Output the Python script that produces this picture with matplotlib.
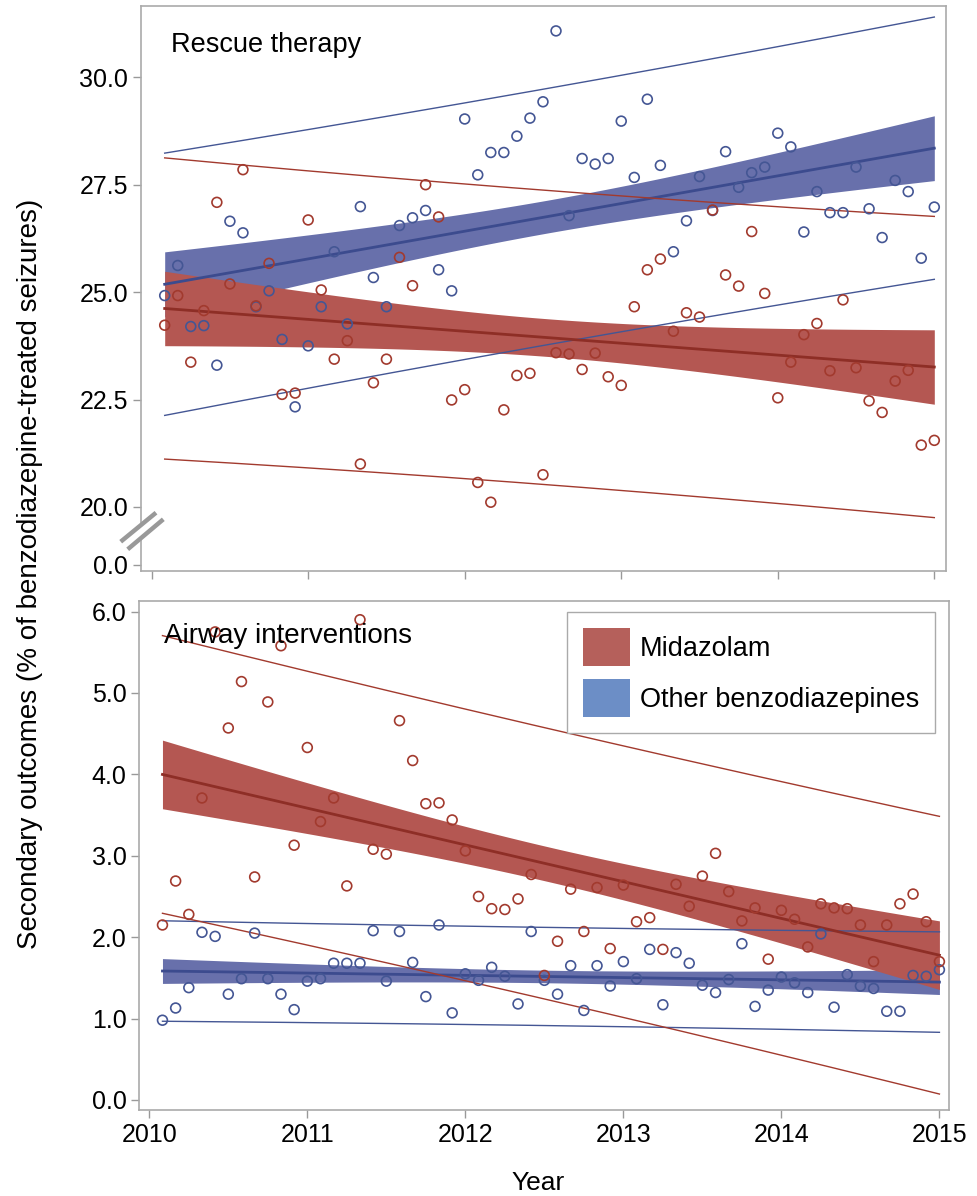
import numpy as np
import matplotlib
matplotlib.use('Agg')
import matplotlib.pyplot as plt
from matplotlib.lines import Line2D
from matplotlib.patches import Patch

plt.rcParams['font.family'] = ['Liberation Sans', 'DejaVu Sans']

# --- data (monthly points, Feb 2010 .. Jan 2015) ---
months = np.arange(1, 61)
year = 2010 + months / 12.0

rescue_midazolam = [24.23, 24.92, 23.37, 24.57, 27.09, 25.19, 27.85, 24.68, 25.67, 22.62,
                    22.65, 26.68, 25.05, 23.44, 23.87, 21.00, 22.89, 23.44, 25.81, 25.15,
                    27.50, 26.75, 22.49, 22.73, 20.57, 20.11, 22.26, 23.06, 23.11, 20.75,
                    23.59, 23.56, 23.20, 23.58, 23.03, 22.83, 24.66, 25.52, 25.77, 24.09,
                    24.52, 24.42, 26.91, 25.40, 25.14, 26.41, 24.97, 22.54, 23.37, 24.01,
                    24.27, 23.17, 24.82, 23.24, 22.47, 22.20, 22.93, 23.18, 21.44, 21.55]
rescue_other = [24.92, 25.62, 24.20, 24.22, 23.30, 26.65, 26.38, 24.66, 25.03, 23.90,
                22.33, 23.75, 24.66, 25.94, 24.26, 26.99, 25.34, 24.66, 26.55, 26.73,
                26.90, 25.52, 25.03, 29.03, 27.73, 28.25, 28.25, 28.63, 29.05, 29.43,
                31.08, 26.78, 28.11, 27.98, 28.11, 28.98, 27.67, 29.49, 27.95, 25.94,
                26.66, 27.69, 26.90, 28.27, 27.44, 27.78, 27.91, 28.70, 28.38, 26.40,
                27.34, 26.85, 26.85, 27.91, 26.94, 26.27, 27.60, 27.34, 25.79, 26.98]
airway_midazolam = [2.15, 2.69, 2.28, 3.71, 5.75, 4.57, 5.14, 2.74, 4.89, 5.58,
                    3.13, 4.33, 3.42, 3.71, 2.63, 5.90, 3.08, 3.02, 4.66, 4.17,
                    3.64, 3.65, 3.44, 3.06, 2.50, 2.35, 2.34, 2.47, 2.77, 1.53,
                    1.95, 2.59, 2.07, 2.61, 1.86, 2.64, 2.19, 2.24, 1.85, 2.65,
                    2.38, 2.75, 3.03, 2.56, 2.20, 2.36, 1.73, 2.33, 2.22, 1.88,
                    2.41, 2.36, 2.35, 2.15, 1.70, 2.15, 2.41, 2.53, 2.19, 1.70]
airway_other = [0.98, 1.13, 1.38, 2.06, 2.01, 1.30, 1.49, 2.05, 1.49, 1.30,
                1.11, 1.46, 1.49, 1.68, 1.68, 1.68, 2.08, 1.46, 2.07, 1.69,
                1.27, 2.15, 1.07, 1.55, 1.47, 1.63, 1.52, 1.18, 2.07, 1.47,
                1.30, 1.65, 1.10, 1.65, 1.40, 1.70, 1.49, 1.85, 1.17, 1.81,
                1.68, 1.41, 1.32, 1.48, 1.92, 1.15, 1.35, 1.51, 1.44, 1.32,
                2.04, 1.14, 1.54, 1.40, 1.37, 1.09, 1.09, 1.53, 1.52, 1.60]

years = [2010, 2011, 2012, 2013, 2014, 2015]
labels = ['Midazolam', 'Other benzodiazepines']

# colours
red = dict(fill='#b45752', line='#8e2e26', mark='#a23a2e', legend='#b5605b')
blue = dict(fill='#6870ab', line='#3c4b8e', mark='#445694', legend='#6c8ec6')
T_CRIT = 2.0017  # t(0.975, df=58)


def fit_bands(x, y):
    x = np.asarray(x)
    y = np.asarray(y, dtype=float)
    b, a = np.polyfit(x, y, 1)
    resid = y - (a + b * x)
    n = len(x)
    s = np.sqrt(np.sum(resid ** 2) / (n - 2))
    xbar = x.mean()
    sxx = np.sum((x - xbar) ** 2)
    xs = np.linspace(x.min(), x.max(), 200)
    fit = a + b * xs
    ci = T_CRIT * s * np.sqrt(1.0 / n + (xs - xbar) ** 2 / sxx)
    pi = T_CRIT * s * np.sqrt(1 + 1.0 / n + (xs - xbar) ** 2 / sxx)
    return xs, fit, ci, pi


def draw_panel(ax, y_mid, y_oth):
    groups = [(y_oth, blue), (y_mid, red)]
    res = [fit_bands(year, g[0]) for g in groups]
    for (yy, c), (xs, fit, ci, pi) in zip(groups, res):
        ax.fill_between(xs, fit - ci, fit + ci, color=c['fill'], lw=0, zorder=1)
    for (yy, c), (xs, fit, ci, pi) in zip(groups, res):
        ax.plot(xs, fit, color=c['line'], lw=2.0, zorder=2)
        ax.plot(xs, fit + pi, color=c['mark'], lw=1.0, zorder=2)
        ax.plot(xs, fit - pi, color=c['mark'], lw=1.0, zorder=2)
    for yy, c in groups:
        ax.scatter(year, yy, s=50, facecolors='none', edgecolors=c['mark'],
                   linewidths=1.2, zorder=3)


def style_axes(ax):
    for sp in ax.spines.values():
        sp.set_color('#aaaaaa')
        sp.set_linewidth(1.2)
    ax.tick_params(direction='out', length=6, width=1, color='#999999',
                   labelsize=18, pad=3)
    ax.set_xticks(years)


fig = plt.figure(figsize=(9.77, 11.96), dpi=100)
ax1 = fig.add_axes([0.1440, 0.5226, 0.8240, 0.4724])
ax2 = fig.add_axes([0.1423, 0.0719, 0.8291, 0.4256])

# top panel: rescue therapy (broken y axis)
draw_panel(ax1, rescue_midazolam, rescue_other)
style_axes(ax1)
ax1.set_xlim(2009.930, 2015.073)
ax1.set_ylim(18.51, 31.66)
ax1.set_yticks([18.65, 20, 22.5, 25, 27.5, 30])
ax1.set_yticklabels(['0.0', '20.0', '22.5', '25.0', '27.5', '30.0'])
ax1.set_xticklabels([])
ax1.text(0.0376, 0.931, 'Rescue therapy', transform=ax1.transAxes,
         fontsize=19.5, va='center', ha='left')

# axis break marks
W, H = 977.0, 1196.0
fig.add_artist(Line2D([124.2 / W, 159.6 / W], [1 - 545.5 / H, 1 - 516.0 / H],
                      color='white', lw=5, solid_capstyle='butt'))
for (x0, y0, x1, y1) in [(120.7, 541.7, 156.0, 512.7), (127.7, 549.3, 163.3, 519.3)]:
    fig.add_artist(Line2D([x0 / W, x1 / W], [1 - y0 / H, 1 - y1 / H],
                          color='#999999', lw=3.2, solid_capstyle='butt'))

# bottom panel: airway interventions
draw_panel(ax2, airway_midazolam, airway_other)
style_axes(ax2)
ax2.set_xlim(2009.935, 2015.061)
ax2.set_ylim(-0.123, 6.13)
ax2.set_yticks([0, 1, 2, 3, 4, 5, 6])
ax2.set_yticklabels([f'{v:.1f}' for v in [0, 1, 2, 3, 4, 5, 6]])
ax2.set_xticklabels([str(y) for y in years])
ax2.text(0.031, 0.931, 'Airway interventions', transform=ax2.transAxes,
         fontsize=20, va='center', ha='left', zorder=5)

handles = [Patch(facecolor=red['legend'], edgecolor='none'),
           Patch(facecolor=blue['legend'], edgecolor='none')]
leg = ax2.legend(handles, labels, loc='upper right', bbox_to_anchor=(0.983, 0.978),
                 borderaxespad=0, fontsize=19.5, handlelength=1.75, handleheight=1.75,
                 labelspacing=0.5, handletextpad=0.35, borderpad=0.6,
                 fancybox=False, framealpha=1, edgecolor='#aaaaaa')
leg.get_frame().set_linewidth(1.0)
leg.set_zorder(10)

fig.text(0.031, 0.520, 'Secondary outcomes (% of benzodiazepine-treated seizures)',
         rotation=90, fontsize=20, ha='center', va='center')
fig.text(0.551, 0.011, 'Year', fontsize=19, ha='center', va='center')

fig.savefig('out.png', dpi=100)
